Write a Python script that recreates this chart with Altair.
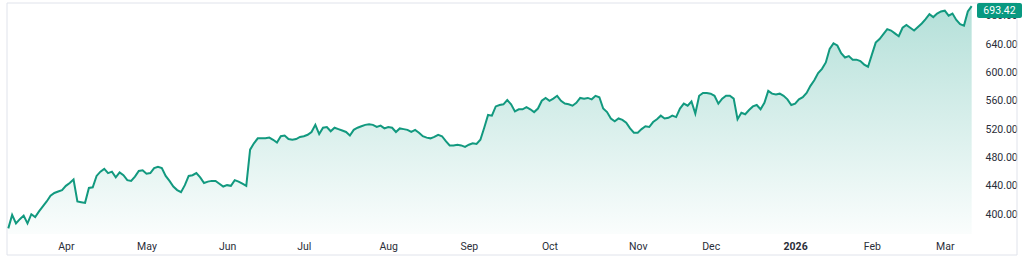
import altair as alt
import pandas as pd

# Daily closes (trading days, 2025-03-11 .. 2026-03-11)
close_mar_may = [380, 399, 387, 393, 398, 387, 400, 396, 404, 411,
                 418, 426, 430, 432, 434, 440, 444, 449, 418, 417,
                 416, 437, 438, 454, 460, 464, 458, 460, 452, 459,
                 455, 448, 447, 453, 461, 462, 457, 458, 465, 467,
                 465, 454, 447, 439, 434, 431, 441, 454, 455, 458]
close_jun_aug = [452, 444, 446, 447, 447, 443, 439, 441, 440, 448,
                 446, 443, 440, 491, 500, 507, 507, 507, 508, 505,
                 501, 510, 511, 506, 505, 506, 509, 510, 512, 516,
                 526, 513, 522, 523, 517, 522, 520, 518, 516, 511,
                 519, 522, 524, 526, 527, 526, 523, 525, 521, 523]
close_aug_oct = [522, 516, 521, 520, 519, 516, 519, 515, 510, 508,
                 507, 509, 512, 510, 503, 497, 497, 498, 497, 495,
                 498, 500, 499, 505, 522, 540, 539, 552, 554, 555,
                 561, 555, 545, 548, 548, 551, 548, 544, 549, 560,
                 564, 560, 563, 567, 560, 556, 555, 553, 557, 564]
close_oct_dec = [563, 564, 562, 567, 565, 549, 544, 535, 531, 535,
                 533, 529, 521, 515, 515, 520, 524, 523, 530, 534,
                 539, 535, 536, 539, 537, 549, 556, 553, 559, 542,
                 567, 571, 571, 570, 567, 556, 563, 567, 567, 563,
                 534, 543, 541, 547, 552, 554, 548, 557, 574, 570]
close_dec_mar = [569, 570, 567, 562, 554, 556, 562, 565, 571, 581,
                 589, 599, 605, 614, 633, 641, 638, 627, 621, 623,
                 618, 618, 616, 611, 608, 625, 642, 647, 654, 661,
                 659, 655, 651, 663, 667, 663, 659, 664, 669, 675,
                 682, 678, 683, 686, 687, 680, 683, 674, 668, 666,
                 686, 693.42]

market_holidays = ["2025-04-18", "2025-05-26", "2025-06-19", "2025-07-04",
                   "2025-09-01", "2025-11-27", "2025-12-25", "2026-01-01",
                   "2026-01-19", "2026-02-16"]

price_ticks = [400, 440, 480, 520, 560, 600, 640, 680]

values = close_mar_may + close_jun_aug + close_aug_oct + close_oct_dec + close_dec_mar
dates = pd.bdate_range("2025-03-11", "2026-03-11")
dates = dates[~dates.isin(pd.to_datetime(market_holidays))]
n = min(len(dates), len(values))
df = pd.DataFrame({"i": list(range(n)), "date": dates[:n], "value": values[:n]})

tick_idx = [i for i in range(1, n) if dates[i].month != dates[i - 1].month]
tick_lab = ["2026" if dates[i].month == 1 else dates[i].strftime("%b") for i in tick_idx]
expr = "''"
for i, lab in reversed(list(zip(tick_idx, tick_lab))):
    expr = f"datum.value == {i} ? '{lab}' : ({expr})"
year_tick = tick_idx[tick_lab.index("2026")] if "2026" in tick_lab else -1

LINE = "#12997f"
TEXT = "#2a2e39"
FONT = "Roboto"
W, H = 975, 234
Y_MIN, Y_MAX = 372.1, 702.1

xs = alt.X("i:Q",
           scale=alt.Scale(domain=[-2.163, 251.87], nice=False, zero=False),
           axis=alt.Axis(values=tick_idx, labelExpr=expr, title=None, domain=False,
                         ticks=False, grid=False, labelPadding=7, labelFontSize=10.5,
                         labelColor=TEXT, labelFont=FONT, labelOverlap=False,
                         labelFlush=False,
                         labelFontWeight={"condition": {"test": "datum.value == %d" % year_tick,
                                                        "value": "bold"},
                                          "value": "normal"}))
ys = alt.Y("value:Q", stack=None,
           scale=alt.Scale(domain=[Y_MIN, Y_MAX], nice=False, zero=False),
           axis=alt.Axis(orient="right", values=price_ticks, format=".2f", title=None,
                         domain=False, ticks=False, grid=False, labelPadding=10,
                         labelAlign="left", labelFontSize=10.5, labelColor=TEXT,
                         labelFont=FONT))

border = alt.Chart(pd.DataFrame({"a": [0]})).mark_rect(
    fill="transparent", stroke="#e0e3eb", strokeWidth=1
).encode(x=alt.value(7), x2=alt.value(1017), y=alt.value(3), y2=alt.value(255))

area = alt.Chart(df).mark_area(
    color=alt.Gradient(
        gradient="linear",
        stops=[alt.GradientStop(color="rgba(8,153,129,0.30)", offset=0),
               alt.GradientStop(color="rgba(8,153,129,0.02)", offset=1)],
        x1=0, x2=0, y1=0, y2=1),
    interpolate="linear"
).encode(x=xs, y=ys, y2=alt.datum(Y_MIN))

line = alt.Chart(df).mark_line(color=LINE, strokeWidth=2).encode(x=xs, y=ys)

last = df.tail(1)
box = alt.Chart(last).mark_rect(color="#089981", cornerRadius=2).encode(
    x=alt.value(977), x2=alt.value(1022), y=alt.value(3), y2=alt.value(18))
box_text = alt.Chart(last).mark_text(
    color="white", fontSize=10.5, font=FONT, align="center", baseline="middle"
).encode(x=alt.value(999.5), y=alt.value(10.5), text=alt.Text("value:Q", format=".2f"))

chart = alt.layer(border, area, line, box, box_text).properties(
    width=W, height=H,
    autosize=alt.AutoSizeParams(type="none"),
    padding={"left": 0, "top": 0, "right": 1024 - W, "bottom": 266 - H},
    background="white",
).configure_view(stroke=None)

chart.save("out.html", embed_options={"renderer": "svg", "actions": False})
